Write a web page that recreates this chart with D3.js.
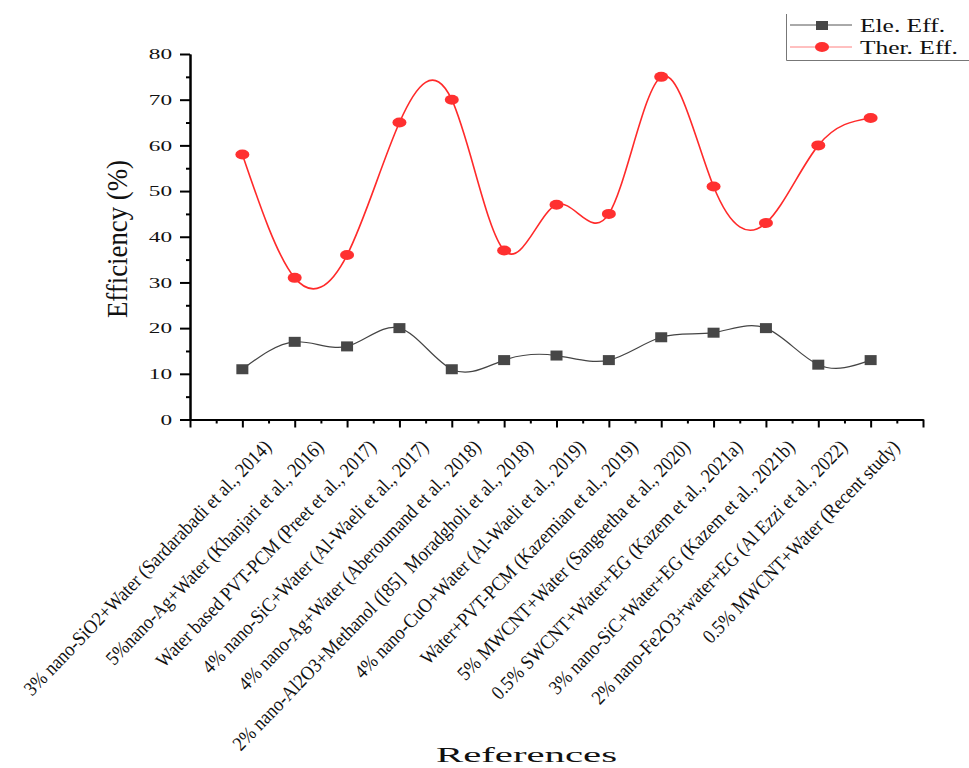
<!DOCTYPE html>
<html>
<head>
<meta charset="utf-8">
<script src="https://cdn.jsdelivr.net/npm/d3@7"></script>
<style>
  body { margin: 0; background: #fff; }
  text { font-family: "Liberation Serif", "Times New Roman", serif; fill: #111; }
</style>
</head>
<body>
<div id="container"></div>
<script>
let width = 969;
let height = 768;

// data
const refs = [
  "3% nano-SiO2+Water (Sardarabadi et al., 2014)",
  "5%nano-Ag+Water (Khanjari et al., 2016)",
  "Water based PVT-PCM (Preet et al., 2017)",
  "4% nano-SiC+Water (Al-Waeli et al., 2017)",
  "4% nano-Ag+Water (Aberoumand et al., 2018)",
  "2% nano-Al2O3+Methanol ([85]\u00a0 Moradgholi et al., 2018)",
  "4% nano-CuO+Water (Al-Waeli et al., 2019)",
  "Water+PVT-PCM (Kazemian et al., 2019)",
  "5% MWCNT+Water (Sangeetha et al., 2020)",
  "0.5% SWCNT+Water+EG (Kazem et al., 2021a)",
  "3% nano-SiC+Water+EG (Kazem et al., 2021b)",
  "2% nano-Fe2O3+water+EG (Al Ezzi et al., 2022)",
  "0.5% MWCNT+Water (Recent study)"
];
const eleEff = [11, 17, 16, 20, 11, 13, 14, 13, 18, 19, 20, 12, 13];
const therEff = [58, 31, 36, 65, 70, 37, 47, 45, 75, 51, 43, 60, 66];
const yTicks = [0, 10, 20, 30, 40, 50, 60, 70, 80];
const seriesNames = ["Ele. Eff.", "Ther. Eff."];

let svg = d3.select("#container")
  .append("svg")
  .attr("width", width)
  .attr("height", height);

let x = d3.scaleLinear().domain([0, 14]).range([190, 923]);
let y = d3.scaleLinear().domain([0, 80]).range([419.5, 54]);

// x axis: major + minor ticks
svg.append("g").attr("transform", "translate(0,419.5)")
  .call(d3.axisBottom(x).tickValues(d3.range(0, 15)).tickSize(8).tickSizeOuter(0).tickFormat(""));
svg.append("g").attr("transform", "translate(0,419.5)")
  .call(d3.axisBottom(x).tickValues(d3.range(0.5, 14, 1)).tickSize(4).tickSizeOuter(0).tickFormat(""));

// y axis
let yMajor = svg.append("g").attr("transform", "translate(190,0)")
  .call(d3.axisLeft(y).tickValues(yTicks).tickSize(10).tickSizeOuter(0).tickPadding(8));
svg.append("g").attr("transform", "translate(190,0)")
  .call(d3.axisLeft(y).tickValues(d3.range(5, 80, 10)).tickSize(4).tickSizeOuter(0).tickFormat(""));

svg.selectAll(".domain").attr("stroke", "#000").attr("stroke-width", 2);
svg.selectAll(".tick line").attr("stroke", "#000").attr("stroke-width", 2);

// wide tick numbers like the original
yMajor.selectAll("text")
  .style("font-size", "15px")
  .style("font-family", "Liberation Serif")
  .attr("fill", "#111")
  .attr("x", -18 / 1.55)
  .attr("transform", "scale(1.55,1)");

// category labels (slightly condensed)
svg.append("g").selectAll("text").data(refs)
  .enter().append("text")
  .attr("text-anchor", "end")
  .attr("dy", "0.35em")
  .attr("transform", (d, i) => `translate(${x(i + 1) + 25},${443}) rotate(-46) scale(0.9,1)`)
  .style("font-size", "20px")
  .style("white-space", "pre")
  .text(d => d);

// lines
let line = d3.line().x((d, i) => x(i + 1)).y(d => y(d)).curve(d3.curveNatural);

svg.append("path").datum(eleEff)
  .attr("d", line)
  .attr("fill", "none")
  .attr("stroke", "#444")
  .attr("stroke-width", 1.2);

svg.append("path").datum(therEff)
  .attr("d", line)
  .attr("fill", "none")
  .attr("stroke", "#ff2a2a")
  .attr("stroke-width", 1.6);

svg.append("g").selectAll("rect").data(eleEff)
  .enter().append("rect")
  .attr("x", (d, i) => x(i + 1) - 6)
  .attr("y", d => y(d) - 5)
  .attr("width", 12)
  .attr("height", 10)
  .attr("fill", "#474747");

svg.append("g").selectAll("ellipse").data(therEff)
  .enter().append("ellipse")
  .attr("cx", (d, i) => x(i + 1))
  .attr("cy", d => y(d))
  .attr("rx", 7)
  .attr("ry", 5)
  .attr("fill", "#ff3030");

// axis titles
svg.append("text")
  .attr("transform", "translate(127,239) rotate(-90)")
  .attr("text-anchor", "middle")
  .attr("textLength", 158)
  .attr("lengthAdjust", "spacingAndGlyphs")
  .style("font-size", "30px")
  .text("Efficiency (%)");

svg.append("text")
  .attr("x", 436)
  .attr("y", 762)
  .attr("textLength", 181)
  .attr("lengthAdjust", "spacingAndGlyphs")
  .style("font-size", "22px")
  .text("References");

// legend
let lg = svg.append("g");
lg.append("path").attr("d", "M786.5,14 V60.5 H969").attr("fill", "none").attr("stroke", "#777").attr("stroke-width", 1);
lg.append("line").attr("x1", 790).attr("x2", 852).attr("y1", 25).attr("y2", 25).attr("stroke", "#555").attr("stroke-width", 1);
lg.append("line").attr("x1", 790).attr("x2", 852).attr("y1", 47).attr("y2", 47).attr("stroke", "#ff8080").attr("stroke-width", 1);
lg.append("rect").attr("x", 816).attr("y", 21).attr("width", 12).attr("height", 9).attr("fill", "#474747");
lg.append("ellipse").attr("cx", 822).attr("cy", 47).attr("rx", 7).attr("ry", 5).attr("fill", "#ff3030");
lg.selectAll(".lgtext").data(seriesNames)
  .enter().append("text")
  .attr("class", "lgtext")
  .attr("x", 860 / 1.34)
  .attr("y", (d, i) => 32 + i * 22)
  .attr("transform", "scale(1.34,1)")
  .style("font-size", "19px")
  .text(d => d);
</script>
</body>
</html>
